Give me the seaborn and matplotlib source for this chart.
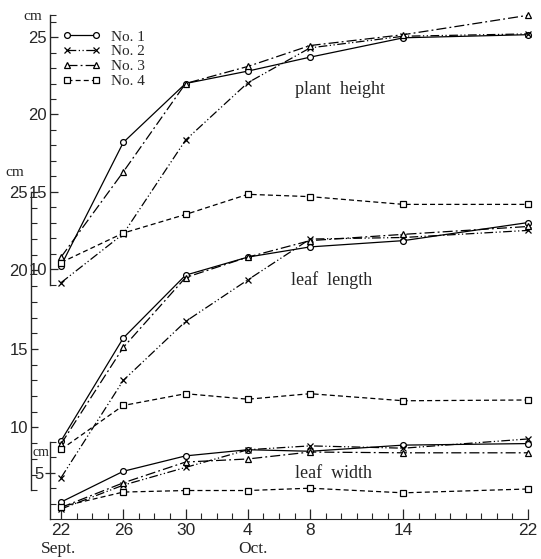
import pandas as pd
import matplotlib.pyplot as plt
import seaborn as sns
from matplotlib.ticker import FixedLocator

sns.set_style('ticks')
plt.rcParams['font.family'] = ['Liberation Serif', 'DejaVu Serif']

# days after Sept. 22
days = [0, 4, 8, 12, 16, 22, 30]
day_labels = ['22', '26', '30', '4', '8', '14', '22']
plants = ['No. 1', 'No. 2', 'No. 3', 'No. 4']

# plant height (cm)
height_1 = [10.25, 18.2, 22.0, 22.8, 23.7, 24.95, 25.15]
height_2 = [9.15, 12.3, 18.35, 22.05, 24.3, 25.05, 25.2]
height_3 = [10.8, 16.3, 22.0, 23.1, 24.45, 25.15, 26.4]
height_4 = [10.45, 12.35, 13.55, 14.85, 14.7, 14.2, 14.2]

# leaf length (cm)
length_1 = [9.15, 15.7, 19.7, 20.85, 21.5, 21.9, 23.05]
length_2 = [6.8, 13.0, 16.75, 19.4, 22.0, 22.1, 22.55]
length_3 = [8.95, 15.1, 19.55, 20.85, 21.9, 22.3, 22.8]
length_4 = [8.6, 11.4, 12.15, 11.8, 12.15, 11.7, 11.75]

# leaf width (cm)
width_1 = [3.1, 5.1, 6.1, 6.5, 6.4, 6.8, 6.9]
width_2 = [2.65, 4.2, 5.35, 6.5, 6.75, 6.6, 7.2]
width_3 = [2.75, 4.35, 5.7, 5.9, 6.35, 6.3, 6.3]
width_4 = [2.8, 3.75, 3.85, 3.85, 4.0, 3.7, 3.95]

markers = ['o', 'x', '^', 's']
styles = ['-', (0, (7, 2, 1, 2, 1, 2)), (0, (8, 2.5, 1.5, 2.5)), (0, (4, 2.5))]

W, H = 541, 559
fig = plt.figure(figsize=(W / 100, H / 100), dpi=100)
rect = [50 / W, (H - 519) / H, (528 - 50) / W, (519 - 15) / H]

ax_w = fig.add_axes(rect, facecolor='none')
ax_l = fig.add_axes(rect, facecolor='none', sharex=ax_w)
ax_h = fig.add_axes(rect, facecolor='none', sharex=ax_w)


def draw(ax, series):
    for name, vals, m, ls in zip(plants, series, markers, styles):
        sns.lineplot(x=days, y=vals, ax=ax, color='black', marker=m,
                     linestyle=ls, lw=0.9, markersize=4.2 if m != 'x' else 4.5,
                     markerfacecolor='white', markeredgecolor='black',
                     markeredgewidth=0.9, label=name, clip_on=False)
    ax.set_xlabel('')
    ax.set_ylabel('')
    if ax.get_legend():
        ax.get_legend().remove()


draw(ax_h, [height_1, height_2, height_3, height_4])
draw(ax_l, [length_1, length_2, length_3, length_4])
draw(ax_w, [width_1, width_2, width_3, width_4])

ax_w.set_xlim(-0.71, 30)
ax_h.set_ylim(-6.10, 26.42)
ax_l.set_ylim(4.17, 36.27)
ax_w.set_ylim(2.0, 34.74)

for ax in (ax_w, ax_l, ax_h):
    ax.spines['top'].set_visible(False)
    ax.spines['right'].set_visible(False)
    ax.tick_params(axis='y', which='major', direction='inout', length=7, width=0.9,
                   labelsize=12, pad=1)
    ax.tick_params(axis='y', which='minor', direction='in', length=4, width=0.8)
    ax.spines['left'].set_linewidth(1.0)
for ax in (ax_l, ax_h):
    ax.spines['bottom'].set_visible(False)
    ax.tick_params(axis='x', which='both', bottom=False, labelbottom=False)

# plant height axis
ax_h.spines['left'].set_bounds(9.0, 26.4)
ax_h.yaxis.set_major_locator(FixedLocator([10, 15, 20, 25]))
ax_h.yaxis.set_minor_locator(FixedLocator([9, 11, 12, 13, 14, 16, 17, 18, 19, 21, 22, 23, 24, 26, 26.4]))
ax_h.tick_params(axis='y', which='major', direction='in', length=6, pad=2)

# leaf length axis
ax_l.spines['left'].set_position(('outward', 13.7))
ax_l.spines['left'].set_bounds(6.0, 25.0)
ax_l.yaxis.set_major_locator(FixedLocator([10, 15, 20, 25]))
ax_l.yaxis.set_minor_locator(FixedLocator([6, 7, 8, 9, 11, 12, 13, 14, 16, 17, 18, 19, 21, 22, 23, 24]))
ax_l.tick_params(axis='y', which='major', direction='in', length=5, pad=2)

# leaf width axis and date axis
ax_w.spines['left'].set_bounds(2.0, 7.0)
ax_w.yaxis.set_major_locator(FixedLocator([5]))
ax_w.yaxis.set_minor_locator(FixedLocator([3, 4, 6, 7]))
ax_w.spines['bottom'].set_bounds(-0.71, 30)
ax_w.set_xticks(days)
ax_w.set_xticklabels(day_labels)
ax_w.xaxis.set_minor_locator(FixedLocator(range(0, 31)))
ax_w.tick_params(axis='x', which='major', direction='in', length=7, width=0.9,
                 labelsize=12.5, pad=3)
ax_w.tick_params(axis='x', which='minor', direction='in', length=4, width=0.8)

for ax in (ax_w, ax_l, ax_h):
    for lab in ax.get_yticklabels() + ax.get_xticklabels():
        lab.set_family(['Liberation Sans Narrow', 'Liberation Sans', 'DejaVu Sans'])

ax_h.text(17.9, 21.6, 'plant  height', ha='center', va='center', fontsize=13)
ax_l.text(17.4, 19.4, 'leaf  length', ha='center', va='center', fontsize=13)
ax_w.text(17.5, 4.94, 'leaf  width', ha='center', va='center', fontsize=13)

fig.text(33 / W, 1 - 17 / H, 'cm', ha='center', va='center', fontsize=11)
fig.text(15 / W, 1 - 173 / H, 'cm', ha='center', va='center', fontsize=11)
fig.text(41 / W, 1 - 452 / H, 'cm', ha='center', va='center', fontsize=10)
fig.text(58 / W, 1 - 549 / H, 'Sept.', ha='center', va='center', fontsize=12.5)
fig.text(253 / W, 1 - 549 / H, 'Oct.', ha='center', va='center', fontsize=12.5)

handles = ax_h.get_lines()[:4]
ax_h.legend(handles, plants, loc='upper left', bbox_to_anchor=(62 / W, 1 - 30 / H),
            bbox_transform=fig.transFigure, frameon=False, numpoints=2,
            handlelength=2.5, handletextpad=0.7, labelspacing=0.07,
            borderpad=0, borderaxespad=0, fontsize=11)

fig.savefig('out.png', dpi=100)
